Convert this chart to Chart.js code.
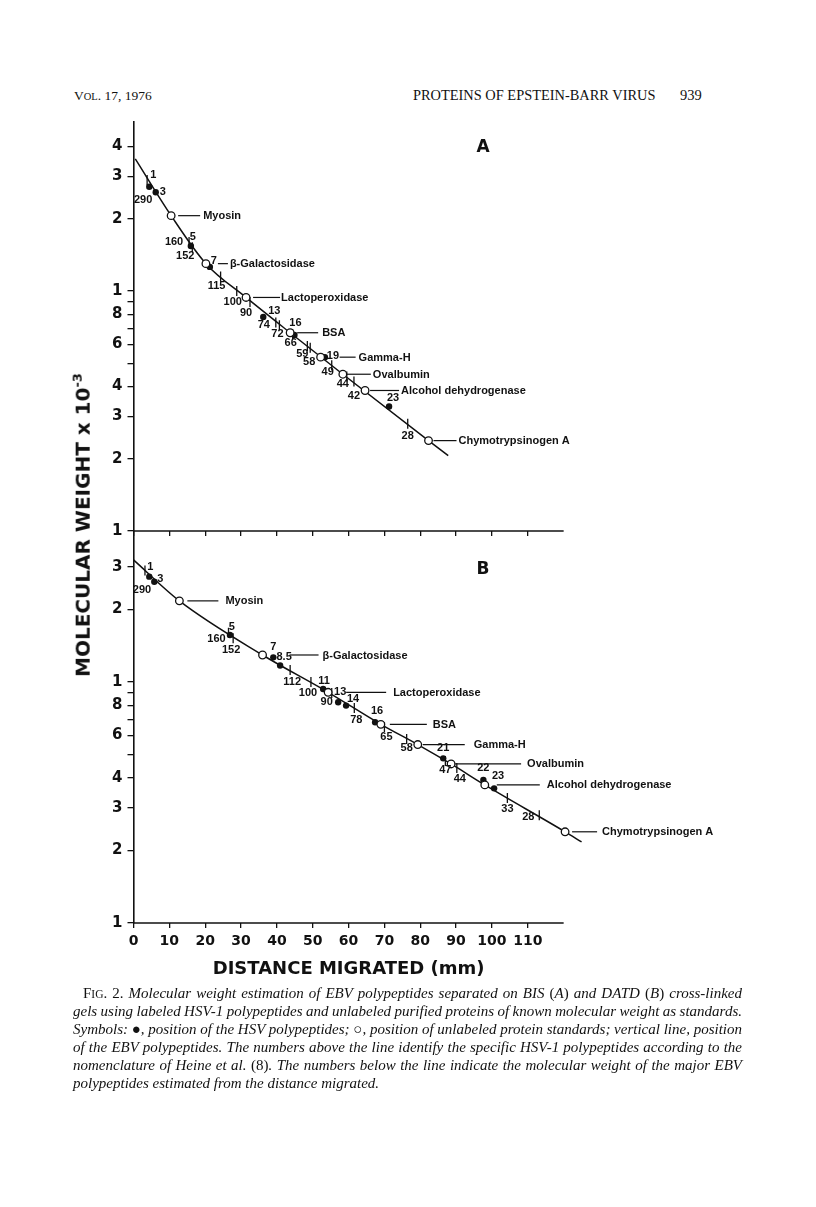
<!DOCTYPE html>
<html>
<head>
<meta charset="utf-8">
<script src="https://cdn.jsdelivr.net/npm/chart.js@4.4.0/dist/chart.umd.min.js"></script>
<style>
  body { margin: 0; background: #fff; width: 816px; height: 1207px; position: relative; overflow: hidden; color: #111; }
  canvas { position: absolute; left: 0; }
  #cA { top: 0; }
  #cB { top: 500px; }
  .hdr { position: absolute; top: 88px; font-family: 'Liberation Serif', serif; font-size: 13.5px; white-space: nowrap; }
  #ytitle { position: absolute; left: 82px; top: 525px; transform: translate(-50%, -50%) rotate(-90deg);
            font: bold 20px 'DejaVu Sans', sans-serif; white-space: nowrap; }
  #ytitle sup { font-size: 13px; }
  #caption { position: absolute; left: 73px; top: 984px; width: 669px; font: italic 15px/18px 'Liberation Serif', serif; }
  .cap { height: 18px; white-space: nowrap; }
  .cap span.t { display: inline-block; }
  .up { font-style: normal; }
</style>
</head>
<body>
<div class="hdr" style="left:74px;">V<span style="font-size:10.5px">OL</span>. 17, 1976</div>
<div class="hdr" style="left:413px;font-size:14.4px;top:87px;">PROTEINS OF EPSTEIN-BARR VIRUS</div>
<div class="hdr" style="left:680px;font-size:14.5px;top:87px;">939</div>

<canvas id="cA" width="816" height="545"></canvas>
<canvas id="cB" width="816" height="500"></canvas>

<div id="ytitle">MOLECULAR WEIGHT x 10<sup>-3</sup></div>

<div id="caption">
  <div class="cap" style="padding-left:10px"><span class="t" data-w="659"><span class="up">F<span style="font-size:11.5px">IG</span>. 2.</span> Molecular weight estimation of EBV polypeptides separated on BIS <span class="up">(</span>A<span class="up">)</span> and DATD <span class="up">(</span>B<span class="up">)</span> cross-linked</span></div>
  <div class="cap"><span class="t" data-w="669">gels using labeled HSV-1 polypeptides and unlabeled purified proteins of known molecular weight as standards.</span></div>
  <div class="cap"><span class="t" data-w="669">Symbols: <span class="up">●</span>, position of the HSV polypeptides; <span class="up">○</span>, position of unlabeled protein standards; vertical line, position</span></div>
  <div class="cap"><span class="t" data-w="669">of the EBV polypeptides. The numbers above the line identify the specific HSV-1 polypeptides according to the</span></div>
  <div class="cap"><span class="t" data-w="669">nomenclature of Heine et al. <span class="up">(8)</span>. The numbers below the line indicate the molecular weight of the major EBV</span></div>
  <div class="cap"><span class="t">polypeptides estimated from the distance migrated.</span></div>
</div>

<script>
  // ---- data (distance in mm, molecular weight in kDa) ----
  const stdNames = ['Myosin', 'β-Galactosidase', 'Lactoperoxidase', 'BSA', 'Gamma-H', 'Ovalbumin', 'Alcohol dehydrogenase', 'Chymotrypsinogen A'];

  // panel A (BIS)
  const stdDistA = [10.5, 20.2, 31.4, 43.7, 52.2, 58.4, 64.6, 82.3];
  const stdMwA = [206, 130, 94, 67, 53, 45, 38.5, 23.8];
  const hsvLabelsA = ['1', '3', '5', '7', '13', '16', '19', '23'];
  const hsvDistA = [4.4, 6.2, 16.0, 21.3, 36.2, 44.9, 53.4, 71.3];
  const hsvMwA = [272, 258, 154, 126, 78, 65.6, 53, 33];
  const ebvMwA = [290, 160, 152, 115, 100, 90, 74, 72, 66, 59, 58, 49, 44, 42, 28];
  const ebvDistA = [3.8, 15.5, 16.4, 24.3, 28.8, 32.5, 39.7, 40.7, 44.4, 48.5, 49.3, 55.3, 59.5, 61.5, 76.5];
  const curveDistA = [0.5, 10.5, 20.2, 31.4, 43.7, 58.4, 82.3, 87.8];
  const curveMwA = [355, 206, 130, 94, 67, 45, 23.8, 20.6];

  // panel B (DATD)
  const stdDistB = [12.8, 36.0, 54.3, 69.0, 79.3, 88.6, 98.0, 120.4];
  const stdMwB = [217, 129.4, 90.6, 66.7, 55, 45.7, 37.4, 23.9];
  const hsvLabelsB = ['1', '3', '5', '7', '8.5', '11', '13', '14', '16', '21', '22', '23'];
  const hsvDistB = [4.4, 5.8, 26.9, 39.0, 40.9, 52.9, 57.1, 59.3, 67.4, 86.4, 97.6, 100.6];
  const hsvMwB = [273.5, 260.5, 156.7, 126.5, 117, 93.5, 82.4, 79.8, 68.1, 48.2, 39.2, 36.2];
  const ebvMwB = [290, 160, 152, 112, 100, 90, 78, 65, 58, 47, 44, 33, 28];
  const ebvDistB = [3.2, 26.5, 27.8, 43.7, 49.5, 55.3, 61.6, 70.0, 76.2, 87.0, 90.2, 104.3, 113.2];
  const curveDistB = [0, 12.8, 36.0, 54.3, 69.0, 79.3, 88.6, 98.0, 120.4, 125];
  const curveMwB = [321, 217, 129.4, 90.6, 66.7, 55, 45.7, 37.4, 23.9, 21.7];

  // axes
  const xTicks = [0, 10, 20, 30, 40, 50, 60, 70, 80, 90, 100, 110];
  const xAxisEnd = 120;
  const yTicksA = [10, 20, 30, 40, 50, 60, 70, 80, 90, 100, 200, 300, 400];
  const yTickTextA = ['1', '2', '3', '4', '', '6', '', '8', '', '1', '2', '3', '4'];
  const yTicksB = [10, 20, 30, 40, 50, 60, 70, 80, 90, 100, 200, 300];
  const yTickTextB = ['1', '2', '3', '4', '', '6', '', '8', '', '1', '2', '3'];

  // ---- label layout (pixel offsets from the marks) ----
  const hsvOffA = [[4, -12], [7, 0], [2, -9], [4, -6], [11, -6], [1, -12], [8, -1], [4, -9]];
  const ebvOffA = [[-4, 20], [-15, 0], [-7, 9], [-4, 10], [-4, 11], [-4, 11], [-12, 3], [-2, 9], [-2, 9], [-5, 8], [-1, 14], [-4, 7], [-4, 7], [0, 15], [0, 12]];
  const stdLeadA = [[7, 29, 32], [12, 22, 24], [7, 34, 35], [7, 28, 32], [19, 35, 38], [4, 28, 30], [5, 34, 36], [5, 28, 30]];
  const hsvOffB = [[1, -10], [6, -3], [2, -8], [0, -10], [4, -9], [1, -8], [2, -10], [7, -7], [2, -11], [0, -10], [0, -12], [4, -12]];
  const ebvOffB = [[-3, 19], [-12, 6], [-2, 12], [2, 12], [-3, 11], [-5, 9], [2, 12], [2, 10], [0, 9], [0, 9], [3, 11], [0, 11], [-11, 2]];
  const stdLeadB = [[8, 39, 46], [27, 56, 60], [18, 58, 65], [9, 46, 52], [5, 47, 56], [4, 70, 76], [12, 55, 62], [7, 32, 37]];

  const ink = '#111';
  const pts = (xs, ys) => xs.map((v, i) => ({ x: v, y: ys[i] }));

  // stretch / squeeze the caption lines to the column width
  document.querySelectorAll('#caption span.t[data-w]').forEach(el => {
    const target = +el.dataset.w;
    const spaces = (el.textContent.match(/ /g) || []).length;
    const w = el.getBoundingClientRect().width;
    el.style.wordSpacing = ((target - w) / spaces) + 'px';
  });

  function marksPlugin(p) {
    return {
      id: 'marks' + p.letter,
      afterDraw(chart) {
        const { ctx, chartArea: a, scales: { x, y } } = chart;
        ctx.save();
        ctx.strokeStyle = ink;
        ctx.fillStyle = ink;

        // x axis line, stops at 120 mm while the curve runs past it
        ctx.lineWidth = 1.6;
        ctx.beginPath();
        ctx.moveTo(x.getPixelForValue(0), a.bottom);
        ctx.lineTo(x.getPixelForValue(xAxisEnd), a.bottom);
        ctx.stroke();

        // HSV numbers above the line, EBV weights below
        ctx.font = 'bold 11px "Liberation Sans"';
        ctx.textAlign = 'center';
        ctx.textBaseline = 'middle';
        p.hsvLabels.forEach((t, i) => {
          const [dx, dy] = p.hsvOff[i];
          ctx.fillText(t, x.getPixelForValue(p.hsvDist[i]) + dx, y.getPixelForValue(p.hsvMw[i]) + dy);
        });
        p.ebvMw.forEach((v, i) => {
          const [dx, dy] = p.ebvOff[i];
          ctx.fillText(String(v), x.getPixelForValue(p.ebvDist[i]) + dx, y.getPixelForValue(v) + dy);
        });

        // standard names with leader lines
        ctx.textAlign = 'left';
        ctx.lineWidth = 1.2;
        stdNames.forEach((name, i) => {
          const px = x.getPixelForValue(p.stdDist[i]);
          const py = y.getPixelForValue(p.stdMw[i]);
          const [s, e, t] = p.stdLead[i];
          ctx.beginPath();
          ctx.moveTo(px + s, py);
          ctx.lineTo(px + e, py);
          ctx.stroke();
          ctx.fillText(name, px + t, py + 0.5);
        });

        // panel letter
        ctx.font = 'bold 17px "DejaVu Sans"';
        ctx.textAlign = 'center';
        ctx.fillText(p.letter, x.getPixelForValue(97.5), a.top + p.letterDy);

        if (p.xTitle) {
          ctx.font = 'bold 18px "DejaVu Sans"';
          ctx.fillText(p.xTitle, x.getPixelForValue(60), a.bottom + 46);
        }
        ctx.restore();
      }
    };
  }

  function makePanel(id, p) {
    new Chart(document.getElementById(id), {
      type: 'scatter',
      data: {
        datasets: [
          { data: pts(p.stdDist, p.stdMw), pointStyle: 'circle', pointRadius: 3.8, backgroundColor: '#fff', borderColor: ink, borderWidth: 1.3 },
          { data: pts(p.hsvDist, p.hsvMw), pointStyle: 'circle', pointRadius: 3.2, backgroundColor: ink, borderColor: ink, borderWidth: 0 },
          { data: pts(p.ebvDist, p.ebvMw), pointStyle: 'line', rotation: 90, pointRadius: 5, borderColor: ink, borderWidth: 1.3 },
          { data: pts(p.curveDist, p.curveMw), showLine: true, borderColor: ink, borderWidth: 1.5, pointRadius: 0, cubicInterpolationMode: 'monotone' }
        ]
      },
      options: {
        responsive: false,
        animation: false,
        events: [],
        layout: { padding: { top: p.padTop, right: 216.5, left: 0, bottom: 0 } },
        plugins: { legend: { display: false }, tooltip: { enabled: false } },
        scales: {
          x: {
            type: 'linear', min: 0, max: 130,
            afterBuildTicks: s => { s.ticks = xTicks.map(v => ({ value: v })); },
            afterFit: s => { s.height = p.xAxisH; },
            border: { display: false },
            grid: { drawOnChartArea: false, drawTicks: true, tickLength: 5, color: ink, lineWidth: 1.3 },
            ticks: { display: p.showXLabels, color: ink, autoSkip: false, maxRotation: 0, padding: 5,
                     font: { family: 'DejaVu Sans', size: 14, weight: 'bold' } }
          },
          y: {
            type: 'logarithmic', min: 10, max: p.yMax,
            afterBuildTicks: s => { s.ticks = p.yTicks.map(v => ({ value: v })); },
            afterFit: s => { s.width = 133.5; },
            border: { display: true, color: ink, width: 1.6 },
            grid: { drawOnChartArea: false, drawTicks: true, tickLength: 6, color: ink, lineWidth: 1.3 },
            ticks: { callback: (v, i) => p.yTickText[i], color: ink, autoSkip: false, padding: 5,
                     font: { family: 'DejaVu Sans', size: 15, weight: 'bold' } }
          }
        }
      },
      plugins: [marksPlugin(p)]
    });
  }

  makePanel('cA', {
    letter: 'A', letterDy: 26, padTop: 122, xAxisH: 14, showXLabels: false, yMax: 506,
    yTicks: yTicksA, yTickText: yTickTextA,
    stdDist: stdDistA, stdMw: stdMwA, stdLead: stdLeadA,
    hsvLabels: hsvLabelsA, hsvDist: hsvDistA, hsvMw: hsvMwA, hsvOff: hsvOffA,
    ebvMw: ebvMwA, ebvDist: ebvDistA, ebvOff: ebvOffA,
    curveDist: curveDistA, curveMw: curveMwA
  });

  makePanel('cB', {
    letter: 'B', letterDy: 38, padTop: 32, xAxisH: 77, showXLabels: true, yMax: 419,
    yTicks: yTicksB, yTickText: yTickTextB, xTitle: 'DISTANCE MIGRATED (mm)',
    stdDist: stdDistB, stdMw: stdMwB, stdLead: stdLeadB,
    hsvLabels: hsvLabelsB, hsvDist: hsvDistB, hsvMw: hsvMwB, hsvOff: hsvOffB,
    ebvMw: ebvMwB, ebvDist: ebvDistB, ebvOff: ebvOffB,
    curveDist: curveDistB, curveMw: curveMwB
  });
</script>
</body>
</html>
